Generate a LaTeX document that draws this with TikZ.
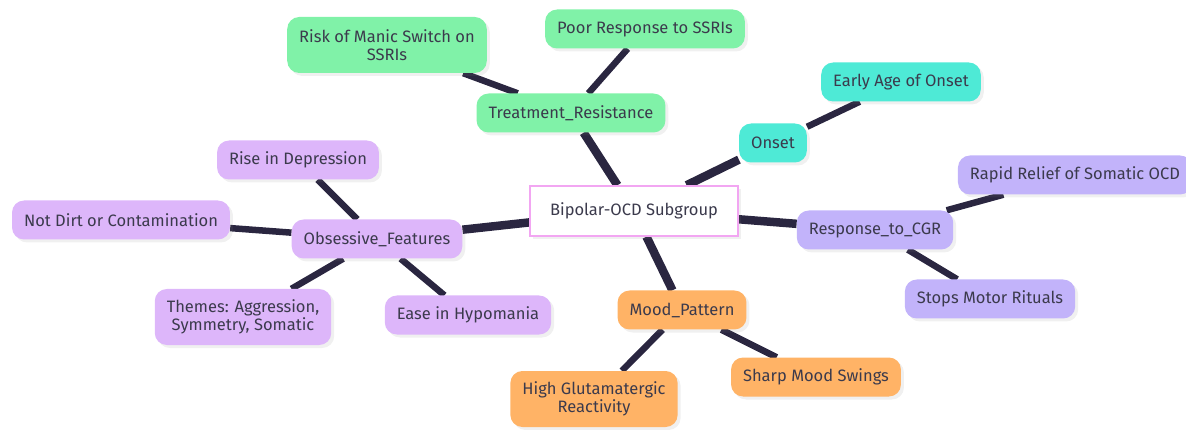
\documentclass[tikz,border=0pt]{standalone}
\usepackage{fontspec}
\setmainfont{Fira Sans}
\usetikzlibrary{shadows,backgrounds}
\definecolor{linkcol}{HTML}{2A2640}
\definecolor{txtcol}{HTML}{3B3A4C}
\definecolor{greenbox}{HTML}{80F2A8}
\definecolor{tealbox}{HTML}{4EEAD6}
\definecolor{lavbox}{HTML}{C2B3FA}
\definecolor{purpbox}{HTML}{DDB6FA}
\definecolor{orangebox}{HTML}{FFB366}
\definecolor{pinkline}{HTML}{F2A6F2}

\begin{document}
\begin{tikzpicture}[x=1pt,y=-1pt,
  box/.style={rounded corners=12pt, minimum height=39pt, inner xsep=12pt, align=center,
    font=\fontsize{16.5}{18.5}\selectfont, text=txtcol,
    drop shadow={opacity=0.12, shadow xshift=3pt, shadow yshift=-3pt}},
  greennode/.style={box, fill=greenbox},
  tealnode/.style={box, fill=tealbox},
  lavnode/.style={box, fill=lavbox},
  purpnode/.style={box, fill=purpbox},
  orangenode/.style={box, fill=orangebox},
  trunk/.style={draw=linkcol, line width=8.5pt},
  twig/.style={draw=linkcol, line width=6.5pt}]
\useasboundingbox (0,0) rectangle (1186,430);

\node[box, rounded corners=0pt, fill=white, draw=pinkline, line width=1.5pt,
  minimum width=208pt, minimum height=50pt] (root) at (634,211) {Bipolar-OCD Subgroup};

\node[greennode] (treat) at (571,113) {Treatment\_Resistance};
\node[greennode, minimum height=56pt] (manic) at (387,45) {Risk of Manic Switch on\\SSRIs};
\node[greennode] (poor) at (645,29) {Poor Response to SSRIs};

\node[tealnode] (onset) at (773,143) {Onset};
\node[tealnode] (early) at (901,82) {Early Age of Onset};

\node[lavnode] (cgr) at (875,230) {Response\_to\_CGR};
\node[lavnode] (rapid) at (1075,175) {Rapid Relief of Somatic OCD};
\node[lavnode] (motor) at (990,299) {Stops Motor Rituals};

\node[orangenode] (mood) at (682,310) {Mood\_Pattern};
\node[orangenode, minimum height=56pt] (gluta) at (594,399) {High Glutamatergic\\Reactivity};
\node[orangenode] (swing) at (816,377) {Sharp Mood Swings};

\node[purpnode] (obs) at (377,239) {Obsessive\_Features};
\node[purpnode] (rise) at (298,160) {Rise in Depression};
\node[purpnode] (dirt) at (121,220) {Not Dirt or Contamination};
\node[purpnode, minimum height=56pt] (themes) at (243,317) {Themes: Aggression,\\Symmetry, Somatic};
\node[purpnode] (ease) at (468,315) {Ease in Hypomania};

\begin{scope}[on background layer]
\draw[trunk] (root) -- (treat);
\draw[trunk] (root) -- (onset);
\draw[trunk] (root) -- (cgr);
\draw[trunk] (root) -- (mood);
\draw[trunk] (root) -- (obs);
\draw[twig] (treat) -- (manic);
\draw[twig] (treat) -- (poor);
\draw[twig] (onset) -- (early);
\draw[twig] (cgr) -- (rapid);
\draw[twig] (cgr) -- (motor);
\draw[twig] (mood) -- (gluta);
\draw[twig] (mood) -- (swing);
\draw[twig] (obs) -- (rise);
\draw[twig] (obs) -- (dirt);
\draw[twig] (obs) -- (themes);
\draw[twig] (obs) -- (ease);
\end{scope}
\end{tikzpicture}
\end{document}
